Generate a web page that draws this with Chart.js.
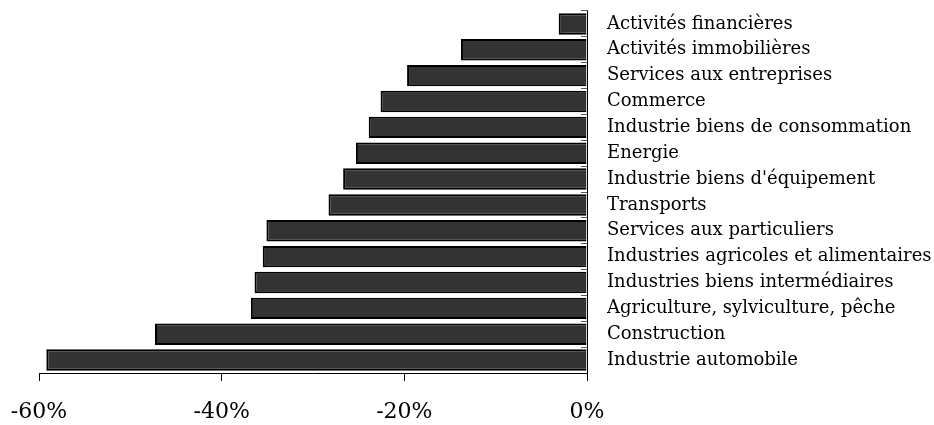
<!DOCTYPE html>
<html>
<head>
<meta charset="utf-8">
<script src="https://cdn.jsdelivr.net/npm/chart.js@4"></script>
<style>
  html, body { margin: 0; padding: 0; background: #fff; }
  #wrap { width: 934px; height: 425px; }
</style>
</head>
<body>
<div id="wrap"><canvas id="c" width="934" height="425"></canvas></div>
<script>
const categories = [
  "Activités financières",
  "Activités immobilières",
  "Services aux entreprises",
  "Commerce",
  "Industrie biens de consommation",
  "Energie",
  "Industrie biens d'équipement",
  "Transports",
  "Services aux particuliers",
  "Industries agricoles et alimentaires",
  "Industries biens intermédiaires",
  "Agriculture, sylviculture, pêche",
  "Construction",
  "Industrie automobile"
];
const values = [-3.1, -13.8, -19.7, -22.6, -23.9, -25.3, -26.7, -28.3, -35.1, -35.5, -36.4, -36.8, -47.3, -59.2];
const xMin = -60, xMax = 0, xStep = 20;

const FONT = "'DejaVu Serif', 'Liberation Serif', serif";

new Chart(document.getElementById('c'), {
  type: 'bar',
  data: {
    labels: categories,
    datasets: [{
      data: values,
      backgroundColor: '#333333',
      borderColor: '#000000',
      borderWidth: 2,
      barPercentage: 0.83,
      categoryPercentage: 1.0
    }]
  },
  options: {
    indexAxis: 'y',
    responsive: false,
    animation: false,
    layout: { padding: { top: 11, left: 39, right: 0, bottom: 0 } },
    plugins: { legend: { display: false }, tooltip: { enabled: false } },
    scales: {
      x: {
        type: 'linear',
        position: 'bottom',
        min: xMin, max: xMax,
        afterFit: (s) => { s.height = 52; s.paddingLeft = 0; s.paddingRight = 0; },
        ticks: {
          stepSize: xStep,
          color: '#000',
          font: { family: FONT, size: 22 },
          padding: 18,
          maxRotation: 0,
          callback: (v) => v + '%'
        },
        grid: {
          display: true,
          drawOnChartArea: false,
          drawTicks: true,
          tickLength: 8,
          color: '#000',
          lineWidth: 1
        },
        border: { display: true, color: '#000', width: 1 }
      },
      y: {
        type: 'category',
        position: 'right',
        afterFit: (s) => { s.width = 347; s.paddingTop = 0; s.paddingBottom = 0; },
        ticks: {
          color: '#000',
          font: { family: FONT, size: 18 },
          padding: 26,
          crossAlign: 'near',
          autoSkip: false
        },
        grid: {
          display: true,
          offset: true,
          drawOnChartArea: false,
          drawTicks: true,
          tickLength: -6,
          color: '#555',
          lineWidth: 1
        },
        border: { display: true, color: '#000', width: 1 }
      }
    }
  }
});
</script>
</body>
</html>
